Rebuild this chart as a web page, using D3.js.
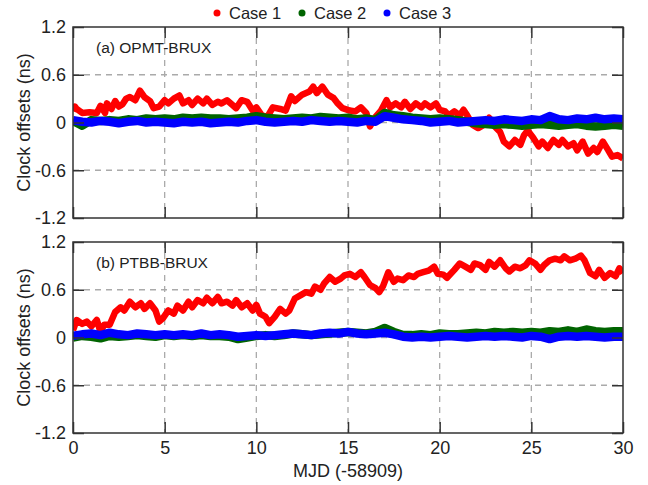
<!DOCTYPE html>
<html>
<head>
<meta charset="utf-8">
<script src="https://cdn.jsdelivr.net/npm/d3@7"></script>
<style>
  body { margin: 0; background: #fff; }
  text { font-family: Arial, "Liberation Sans", sans-serif; fill: #222; }
</style>
</head>
<body>
<div id="chart-area"></div>
<script>
// ---- data ----
var seriesNames = ["Case 1", "Case 2", "Case 3"];
var seriesColors = ["#ff0000", "#006400", "#0000ff"];
var panelLabels = ["(a) OPMT-BRUX", "(b) PTBB-BRUX"];
var xTicks = [0, 5, 10, 15, 20, 25, 30];
var yTicks = [-1.2, -0.6, 0, 0.6, 1.2];
var yTickLabels = ["-1.2", "-0.6", "0", "0.6", "1.2"];

// half-day sample days for case 2 / case 3
var days = d3.range(0, 30.01, 0.5);

// panel (a) case 1: [day, ns]
var opmtCase1 = [[0,0.14],[0.1,0.2],[0.2,0.17],[0.5,0.12],[0.9,0.13],[1.3,0.12],[1.5,0.21],[1.75,0.12],[1.85,0.24],[2.1,0.17],
  [2.3,0.27],[2.5,0.2],[2.7,0.23],[2.9,0.3],[3.1,0.32],[3.4,0.28],[3.65,0.4],[3.9,0.32],[4.2,0.27],[4.4,0.18],[4.7,0.2],
  [5.0,0.28],[5.2,0.24],[5.5,0.3],[5.8,0.34],[6.0,0.24],[6.3,0.28],[6.5,0.22],[6.8,0.3],[7.1,0.24],[7.3,0.3],[7.6,0.22],
  [7.9,0.26],[8.1,0.24],[8.4,0.28],[8.7,0.22],[8.9,0.18],[9.2,0.28],[9.5,0.26],[9.8,0.15],[10.0,0.19],[10.3,0.09],
  [10.6,0.07],[10.9,0.19],[11.3,0.17],[11.6,0.15],[11.9,0.33],[12.1,0.27],[12.5,0.35],[12.9,0.39],[13.1,0.45],[13.3,0.37],
  [13.6,0.45],[13.9,0.35],[14.2,0.31],[14.4,0.25],[14.7,0.18],[15.1,0.15],[15.4,0.14],[15.7,0.19],[16.0,0.12],[16.2,-0.05],
  [16.5,0.07],[16.8,0.15],[17.1,0.28],[17.3,0.19],[17.6,0.24],[17.9,0.19],[18.1,0.26],[18.4,0.17],[18.7,0.24],[19.0,0.19],
  [19.2,0.24],[19.5,0.19],[19.8,0.24],[20.0,0.16],[20.3,0.14],[20.5,0.09],[20.8,0.14],[21.1,0.09],[21.3,0.16],[21.5,0.09],
  [21.8,-0.03],[22.1,-0.07],[22.4,-0.03],[22.7,0.06],[23.0,-0.05],[23.3,-0.12],[23.5,-0.24],[23.8,-0.3],[24.1,-0.22],
  [24.4,-0.28],[24.6,-0.16],[24.8,-0.1],[25.1,-0.19],[25.4,-0.3],[25.6,-0.24],[25.9,-0.32],[26.2,-0.22],[26.5,-0.28],
  [26.7,-0.22],[27.0,-0.3],[27.3,-0.26],[27.5,-0.35],[27.8,-0.24],[28.1,-0.39],[28.4,-0.32],[28.6,-0.37],[28.9,-0.24],
  [29.2,-0.35],[29.4,-0.43],[29.7,-0.41],[30.0,-0.45]];

var opmtCase2 = [0.02,-0.04,0.03,0.02,0.03,0.02,0.04,0.03,0.05,0.04,0.05,0.04,0.06,0.05,0.06,0.05,0.05,0.04,0.05,0.06,
  0.08,0.06,0.05,0.04,0.05,0.06,0.05,0.07,0.06,0.05,0.06,0.04,0.05,0.03,0.12,0.09,0.08,0.06,0.05,0.04,
  0.05,0.04,0.03,0.01,-0.01,-0.02,-0.03,-0.02,-0.03,-0.04,-0.03,-0.02,-0.03,-0.04,-0.03,-0.02,-0.04,-0.05,-0.04,-0.03,-0.04];

var opmtCase3 = [0.03,0.01,0.0,0.02,0.01,-0.01,0.01,0.02,0.0,0.01,0.0,-0.01,0.01,0.0,0.01,-0.01,0.0,0.01,0.0,0.02,
  0.03,0.01,0.0,0.01,0.02,0.01,0.03,0.02,0.01,0.02,0.01,0.0,0.02,0.01,0.08,0.06,0.04,0.03,0.02,0.0,
  0.01,0.02,0.0,0.01,0.02,0.03,0.02,0.04,0.03,0.02,0.04,0.03,0.08,0.04,0.03,0.05,0.04,0.06,0.04,0.05,0.04];

// panel (b) case 1: [day, ns]
var ptbbCase1 = [[0,0.09],[0.2,0.22],[0.5,0.17],[0.75,0.2],[1.0,0.14],[1.3,0.22],[1.5,0.07],[1.7,0.16],[2.0,0.16],[2.3,0.32],
  [2.6,0.38],[2.8,0.34],[3.1,0.45],[3.4,0.38],[3.7,0.43],[3.9,0.36],[4.2,0.43],[4.5,0.34],[4.7,0.2],[4.9,0.24],[5.2,0.34],
  [5.5,0.3],[5.7,0.4],[6.0,0.34],[6.3,0.45],[6.5,0.38],[6.8,0.47],[7.1,0.43],[7.3,0.5],[7.6,0.43],[7.9,0.51],[8.1,0.43],
  [8.4,0.45],[8.7,0.4],[8.9,0.47],[9.2,0.38],[9.5,0.43],[9.8,0.34],[10.0,0.41],[10.2,0.3],[10.5,0.26],[10.7,0.18],[11.0,0.26],
  [11.3,0.36],[11.6,0.3],[11.8,0.34],[12.1,0.49],[12.4,0.53],[12.7,0.57],[13.0,0.55],[13.2,0.64],[13.5,0.6],[13.7,0.68],
  [14.0,0.76],[14.3,0.7],[14.6,0.74],[14.8,0.78],[15.1,0.8],[15.4,0.76],[15.7,0.82],[15.9,0.76],[16.2,0.66],[16.5,0.62],
  [16.7,0.57],[16.9,0.64],[17.2,0.82],[17.5,0.7],[17.7,0.74],[18.0,0.72],[18.3,0.78],[18.6,0.76],[18.8,0.8],[19.1,0.82],
  [19.4,0.84],[19.7,0.89],[19.9,0.8],[20.2,0.79],[20.4,0.75],[20.8,0.85],[21.1,0.93],[21.4,0.89],[21.7,0.85],[21.9,0.93],
  [22.2,0.91],[22.5,0.85],[22.7,0.95],[23.0,0.89],[23.3,0.97],[23.6,0.87],[23.8,0.83],[24.1,0.89],[24.4,0.87],[24.7,0.91],
  [24.9,0.97],[25.2,0.93],[25.5,0.85],[25.7,0.91],[26.0,0.97],[26.3,0.99],[26.6,0.97],[26.8,1.02],[27.1,0.97],[27.4,0.99],
  [27.7,1.03],[27.9,0.97],[28.2,0.81],[28.5,0.77],[28.7,0.85],[29.0,0.75],[29.3,0.81],[29.6,0.77],[29.8,0.87],[30.0,0.81]];

var ptbbCase2 = [0.0,0.02,0.01,-0.01,0.02,0.01,0.02,0.03,0.02,0.01,0.03,0.02,0.03,0.02,0.03,0.02,0.02,0.01,-0.02,0.0,
  0.02,0.03,0.02,0.03,0.05,0.04,0.03,0.04,0.05,0.06,0.07,0.06,0.05,0.07,0.12,0.07,0.03,0.03,0.04,0.03,
  0.05,0.04,0.04,0.05,0.06,0.05,0.07,0.06,0.07,0.06,0.07,0.06,0.08,0.07,0.09,0.07,0.1,0.08,0.07,0.08,0.08];

var ptbbCase3 = [0.02,0.04,0.05,0.03,0.06,0.04,0.03,0.05,0.04,0.03,0.04,0.03,0.04,0.03,0.05,0.03,0.04,0.03,0.01,0.02,
  0.03,0.02,0.03,0.04,0.05,0.04,0.03,0.05,0.06,0.05,0.07,0.05,0.04,0.05,0.06,0.04,0.01,0.0,0.01,0.0,
  0.01,0.02,0.01,0.0,0.01,0.02,0.01,0.02,0.01,0.0,0.02,0.01,-0.02,0.01,0.02,0.01,0.02,0.01,0.0,0.01,0.01];

// ---- layout ----
var width = 648, height = 485;
var left = 73, right = 623;
var panelTops = [27, 242];
var panelH = 191;

var svg = d3.select("#chart-area")
	.append("svg")
	.attr("width", width)
	.attr("height", height);

var x = d3.scaleLinear().domain([0, 30]).range([left, right]);

var panels = [
	{ label: panelLabels[0], c1: opmtCase1, c2: opmtCase2, c3: opmtCase3 },
	{ label: panelLabels[1], c1: ptbbCase1, c2: ptbbCase2, c3: ptbbCase3 }
];

panels.forEach(function (p, i) {
	var top = panelTops[i];
	var y = d3.scaleLinear().domain([-1.2, 1.2]).range([top + panelH, top]);
	var g = svg.append("g");

	g.append("clipPath").attr("id", "clip" + i)
		.append("rect").attr("x", left).attr("y", top).attr("width", right - left).attr("height", panelH);

	// grid
	g.selectAll(".vgrid").data(xTicks.slice(1, -1)).enter().append("line")
		.attr("x1", function (d) { return x(d); }).attr("x2", function (d) { return x(d); })
		.attr("y1", top).attr("y2", top + panelH)
		.attr("stroke", "#aaa").attr("stroke-width", 1.3).attr("stroke-dasharray", "6,5");
	g.selectAll(".hgrid").data(yTicks.slice(1, -1)).enter().append("line")
		.attr("x1", left).attr("x2", right)
		.attr("y1", function (d) { return y(d); }).attr("y2", function (d) { return y(d); })
		.attr("stroke", "#aaa").attr("stroke-width", 1.3).attr("stroke-dasharray", "6,5");

	// lines
	var lineXY = d3.line().x(function (d) { return x(d[0]); }).y(function (d) { return y(d[1]); });
	var lineV = d3.line().x(function (d, k) { return x(days[k]); }).y(function (d) { return y(d); });
	var plot = g.append("g").attr("clip-path", "url(#clip" + i + ")");
	plot.append("path").datum(p.c1).attr("d", lineXY)
		.attr("fill", "none").attr("stroke", seriesColors[0]).attr("stroke-width", 6.5).attr("stroke-linejoin", "round");
	plot.append("path").datum(p.c2).attr("d", lineV)
		.attr("fill", "none").attr("stroke", seriesColors[1]).attr("stroke-width", 8.5).attr("stroke-linejoin", "round");
	plot.append("path").datum(p.c3).attr("d", lineV)
		.attr("fill", "none").attr("stroke", seriesColors[2]).attr("stroke-width", 8.5).attr("stroke-linejoin", "round");

	// axes (inner ticks on all sides)
	var tl = 11;
	g.append("g").attr("transform", "translate(0," + (top + panelH) + ")")
		.call(d3.axisBottom(x).tickValues(xTicks).tickSizeInner(-tl).tickSizeOuter(0).tickFormat(i === 1 ? d3.format("d") : ""))
		.call(function (a) { a.select(".domain").remove(); a.selectAll("line").attr("stroke", "#333").attr("stroke-width", 1.5);
			a.selectAll("text").attr("font-size", "18px").attr("dy", "1.0em").attr("fill", "#222"); });
	g.append("g").attr("transform", "translate(0," + top + ")")
		.call(d3.axisTop(x).tickValues(xTicks).tickSizeInner(-tl).tickSizeOuter(0).tickFormat(""))
		.call(function (a) { a.select(".domain").remove(); a.selectAll("line").attr("stroke", "#333").attr("stroke-width", 1.5); });
	g.append("g").attr("transform", "translate(" + left + ",0)")
		.call(d3.axisLeft(y).tickValues(yTicks).tickSizeInner(-tl).tickSizeOuter(0).tickPadding(7)
			.tickFormat(function (d, k) { return yTickLabels[k]; }))
		.call(function (a) { a.select(".domain").remove(); a.selectAll("line").attr("stroke", "#333").attr("stroke-width", 1.5);
			a.selectAll("text").attr("font-size", "18px").attr("fill", "#222"); });
	g.append("g").attr("transform", "translate(" + right + ",0)")
		.call(d3.axisRight(y).tickValues(yTicks).tickSizeInner(-tl).tickSizeOuter(0).tickFormat(""))
		.call(function (a) { a.select(".domain").remove(); a.selectAll("line").attr("stroke", "#333").attr("stroke-width", 1.5); });

	// frame
	g.append("rect").attr("x", left).attr("y", top).attr("width", right - left).attr("height", panelH)
		.attr("fill", "none").attr("stroke", "#333").attr("stroke-width", 1.5);

	g.append("text").attr("x", left + 23).attr("y", top + 26)
		.attr("font-size", "15.5px").text(p.label);

	g.append("text")
		.attr("transform", "translate(30," + (top + panelH / 2) + ") rotate(-90)")
		.attr("text-anchor", "middle").attr("font-size", "18px")
		.text("Clock offsets (ns)");
});

svg.append("text").attr("x", (left + right) / 2).attr("y", 477)
	.attr("text-anchor", "middle").attr("font-size", "18px").text("MJD (-58909)");

// legend
var legendX = [217, 302, 387];
var legend = svg.selectAll(".legend").data(seriesNames).enter().append("g");
legend.append("circle").attr("cx", function (d, k) { return legendX[k]; }).attr("cy", 13).attr("r", 3.5)
	.attr("fill", function (d, k) { return seriesColors[k]; });
legend.append("text").attr("x", function (d, k) { return legendX[k] + 12; }).attr("y", 19)
	.attr("font-size", "16.5px").text(function (d) { return d; });
</script>
</body>
</html>
